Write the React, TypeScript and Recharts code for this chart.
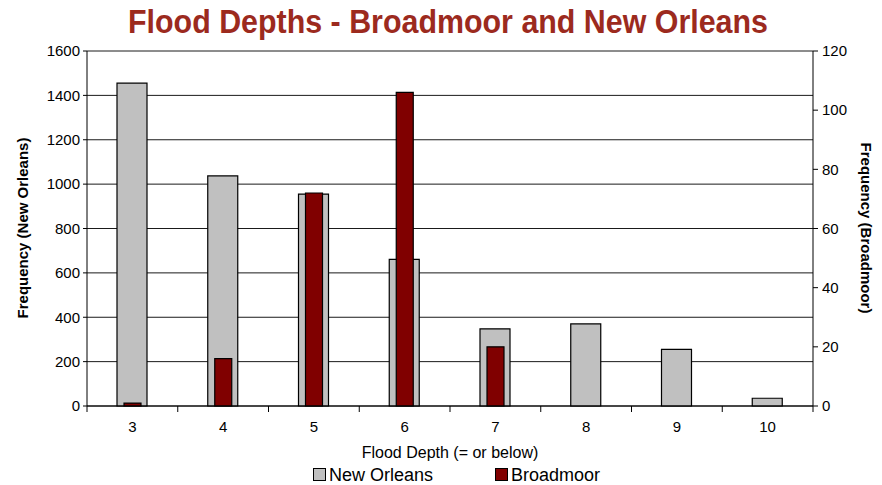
import { Bar, BarChart, CartesianGrid, XAxis, YAxis } from "recharts";

const depths = ["3", "4", "5", "6", "7", "8", "9", "10"];
const newOrleans = [1455, 1037, 955, 661, 348, 370, 255, 35];
const broadmoor = [1, 16, 72, 106, 20, 0, 0, 0];
const leftTicks = [0, 200, 400, 600, 800, 1000, 1200, 1400, 1600];
const rightTicks = [0, 20, 40, 60, 80, 100, 120];

const data = depths.map((d, i) => ({
  depth: d,
  newOrleans: newOrleans[i],
  broadmoor: broadmoor[i],
}));

const W = 882;
const H = 485;
const PLOT_LEFT = 87;
const PLOT_RIGHT = 813;
const BAND = (PLOT_RIGHT - PLOT_LEFT) / depths.length;
const FONT = "Arial, 'Liberation Sans', sans-serif";

const DepthTick = (props: any) => {
  const { x, y, payload, index } = props;
  const left = x - BAND / 2;
  return (
    <g>
      <line x1={left} y1={y} x2={left} y2={y + 6} stroke="#000" />
      {index === depths.length - 1 && (
        <line x1={x + BAND / 2} y1={y} x2={x + BAND / 2} y2={y + 6} stroke="#000" />
      )}
      <text x={x} y={y + 26} textAnchor="middle" fontSize={15} fontFamily={FONT} fill="#000">
        {payload.value}
      </text>
    </g>
  );
};

export default function App() {
  return (
    <div style={{ position: "absolute", left: 0, top: 0, width: W, height: H, background: "#fff" }}>
      <BarChart
        width={W}
        height={H}
        data={data}
        margin={{ top: 51, right: 24, left: 40, bottom: 49 }}
      >
        <CartesianGrid
          xAxisId="main"
          yAxisId="left"
          vertical={false}
          stroke="#1a1a1a"
          horizontalValues={leftTicks}
        />
        <XAxis
          xAxisId="main"
          dataKey="depth"
          height={30}
          tickLine={false}
          tickSize={0}
          tickMargin={0}
          axisLine={{ stroke: "#000" }}
          tick={<DepthTick />}
          interval={0}
        />
        <XAxis xAxisId="over" dataKey="depth" hide />
        <YAxis
          yAxisId="left"
          width={47}
          domain={[0, 1600]}
          ticks={leftTicks}
          interval={0}
          tickSize={4}
          tickMargin={3}
          axisLine={{ stroke: "#000" }}
          tickLine={{ stroke: "#000" }}
          tick={{ fontSize: 15, fill: "#000", fontFamily: FONT }}
        />
        <YAxis
          yAxisId="right"
          orientation="right"
          width={45}
          domain={[0, 120]}
          ticks={rightTicks}
          interval={0}
          tickSize={5}
          tickMargin={4}
          axisLine={{ stroke: "#000" }}
          tickLine={{ stroke: "#000" }}
          tick={{ fontSize: 15, fill: "#000", fontFamily: FONT }}
        />
        <Bar
          xAxisId="main"
          yAxisId="left"
          dataKey="newOrleans"
          barSize={30}
          fill="#C0C0C0"
          stroke="#000"
          strokeWidth={1.2}
          isAnimationActive={false}
        />
        <Bar
          xAxisId="over"
          yAxisId="right"
          dataKey="broadmoor"
          barSize={17}
          fill="#800000"
          stroke="#000"
          strokeWidth={1.2}
          isAnimationActive={false}
        />
      </BarChart>

      <svg
        width={W}
        height={H}
        style={{ position: "absolute", left: 0, top: 0, pointerEvents: "none" }}
      >
        <text
          x={448}
          y={33}
          textAnchor="middle"
          fontSize={34}
          fontWeight="bold"
          fontFamily={FONT}
          fill="#9C2A1E"
          textLength={640}
          lengthAdjust="spacingAndGlyphs"
        >
          Flood Depths - Broadmoor and New Orleans
        </text>
        <text
          transform="translate(22,228) rotate(-90)"
          textAnchor="middle"
          dominantBaseline="central"
          fontSize={15}
          fontWeight="bold"
          fontFamily={FONT}
          fill="#000"
        >
          Frequency (New Orleans)
        </text>
        <text
          transform="translate(866,228) rotate(90)"
          textAnchor="middle"
          dominantBaseline="central"
          fontSize={15}
          fontWeight="bold"
          fontFamily={FONT}
          fill="#000"
        >
          Frequency (Broadmoor)
        </text>
        <text x={450} y={458} textAnchor="middle" fontSize={16} fontFamily={FONT} fill="#000">
          Flood Depth (= or below)
        </text>
        <rect x={313.5} y={468.5} width={12} height={12} fill="#C0C0C0" stroke="#000" />
        <text x={329} y={481} fontSize={18} fontFamily={FONT} fill="#000">
          New Orleans
        </text>
        <rect x={495.5} y={468.5} width={12} height={12} fill="#800000" stroke="#000" />
        <text x={511} y={481} fontSize={18} fontFamily={FONT} fill="#000">
          Broadmoor
        </text>
      </svg>
    </div>
  );
}
